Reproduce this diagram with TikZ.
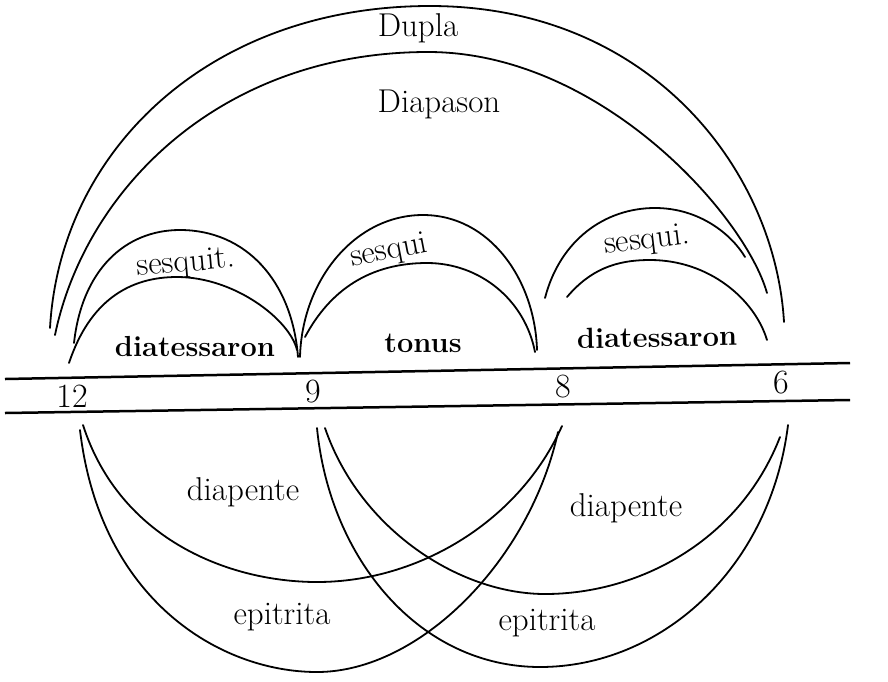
\documentclass[tikz,border=0pt]{standalone}
\begin{document}
\begin{tikzpicture}[x=1pt,y=-1pt,
    arcline/.style={line width=1.8pt,line cap=round},
    rule/.style={line width=2.5pt},
    word/.style={font=\fontsize{33}{38}\selectfont},
    bword/.style={font=\fontsize{29}{34}\selectfont\bfseries},
    num/.style={font=\fontsize{34}{40}\selectfont}]
    \useasboundingbox (0,0) rectangle (888,681);
    % the two rules with the numbers
    \draw[rule] (5,379) -- (850,363);
    \draw[rule] (5,413) -- (850,400);
    \node[num] (n12) at (72,396) {12};
    \node[num] (n9) at (313,392) {9};
    \node[num] (n8) at (563,387) {8};
    \node[num] (n6) at (781,383) {6};
    % big arcs
    \draw[arcline] (50,328) .. controls (60,150) and (210,6) .. (430,6)
        .. controls (650,6) and (775,170) .. (784,322);
    \draw[arcline] (55,335) .. controls (85,190) and (220,52) .. (428,52)
        .. controls (600,52) and (745,215) .. (767,293);
    \node[word] (dupla) at (418,28) {Dupla};
    \node[word] (diapason) at (439,104) {Diapason};
    % small arcs above
    \draw[arcline] (74,343) .. controls (82,270) and (125,230) .. (180,230)
        .. controls (245,230) and (292,280) .. (298,357);
    \draw[arcline] (69,363) .. controls (90,300) and (130,277) .. (177,277)
        .. controls (235,277) and (290,320) .. (297,350);
    \draw[arcline] (300,357) .. controls (302,280) and (355,215) .. (423,215)
        .. controls (490,215) and (535,280) .. (537,350);
    \draw[arcline] (305,337) .. controls (330,290) and (370,263) .. (427,263)
        .. controls (480,263) and (525,300) .. (535,352);
    \draw[arcline] (545,298) .. controls (560,240) and (605,208) .. (655,208)
        .. controls (700,208) and (732,235) .. (745,257);
    \draw[arcline] (567,297) .. controls (590,270) and (615,260) .. (650,260)
        .. controls (710,260) and (755,300) .. (767,340);
    \node[word,rotate=5] (sesq1) at (186,264) {sesquit.};
    \node[word,rotate=11] (sesq2) at (389,252) {sesqui};
    \node[word,rotate=7] (sesq3) at (647,241) {sesqui.};
    \node[bword] (diat1) at (195,347) {diatessaron};
    \node[bword] (tonus) at (423,343) {tonus};
    \node[bword,rotate=1] (diat2) at (657,337) {diatessaron};
    % arcs below
    \draw[arcline] (83,425) .. controls (120,540) and (230,582) .. (317,582)
        .. controls (420,582) and (520,520) .. (562,426);
    \draw[arcline] (80,430) .. controls (100,600) and (220,672) .. (317,672)
        .. controls (420,672) and (530,560) .. (558,432);
    \draw[arcline] (325,428) .. controls (360,530) and (460,594) .. (545,594)
        .. controls (640,594) and (740,540) .. (780,437);
    \draw[arcline] (317,428) .. controls (330,560) and (420,667) .. (540,667)
        .. controls (660,667) and (770,570) .. (788,425);
    \node[word] (diap1) at (243,492) {diapente};
    \node[word] (epit1) at (282,617) {epitrita};
    \node[word] (diap2) at (626,508) {diapente};
    \node[word] (epit2) at (547,623) {epitrita};
\end{tikzpicture}
\end{document}
